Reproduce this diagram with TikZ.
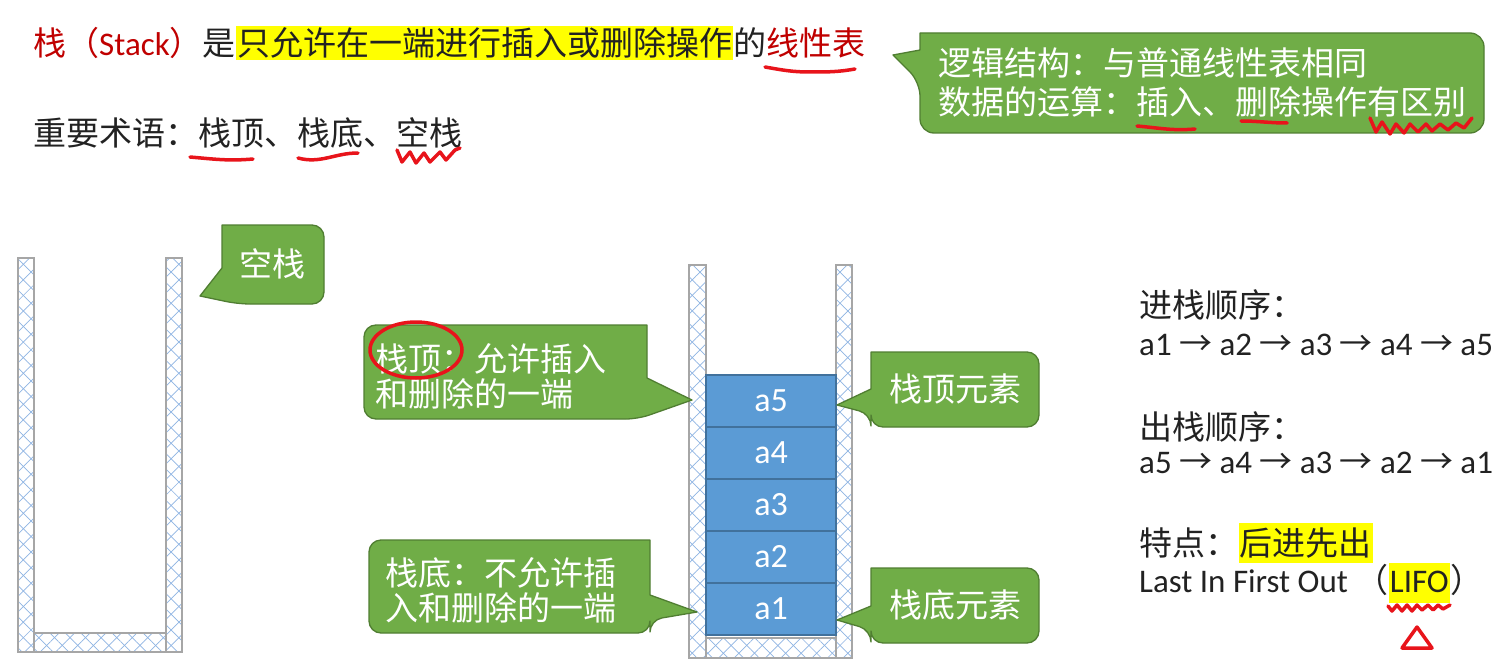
\documentclass[tikz,border=0pt]{standalone}
\usepackage{fontspec}
\setmainfont{Noto Sans CJK SC}
\newfontfamily\lat{Carlito}
\usetikzlibrary{patterns.meta}
\definecolor{cgreen}{HTML}{70AD47}
\definecolor{cgreenb}{HTML}{507E32}
\definecolor{sblue}{HTML}{5B9BD5}
\definecolor{sblueb}{HTML}{41719C}
\definecolor{hatch}{HTML}{8EB4E3}
\definecolor{wallb}{HTML}{A6A6A6}
\definecolor{dred}{HTML}{C00000}
\definecolor{pen}{HTML}{E8141B}
\definecolor{hl}{HTML}{FFFF00}
\definecolor{ink}{HTML}{222222}
\newcommand\wallbox[4]{%
  \fill[white] (#1,#2) rectangle (#3,#4);
  \fill[pattern={Lines[angle=45,distance=11bp,line width=0.7bp]},pattern color=hatch] (#1,#2) rectangle (#3,#4);
  \fill[pattern={Lines[angle=-45,distance=11bp,line width=0.7bp]},pattern color=hatch] (#1,#2) rectangle (#3,#4);
  \draw[wallb,line width=1.3bp] (#1,#2) rectangle (#3,#4);}
\tikzset{
  txt/.style={font=\fontsize{33bp}{40bp}\selectfont, text=ink, inner sep=0pt},
  hlbox/.style={fill=hl, inner xsep=1bp, inner ysep=0pt},
  callout/.style={fill=cgreen, draw=cgreenb, line width=1.3bp, line join=round},
  ctext/.style={text=white, inner sep=0pt, align=left},
  elem/.style={fill=sblue, draw=sblueb, line width=1.5bp, inner sep=0pt, minimum width=130bp, minimum height=52bp, text=white, font=\lat\fontsize{34bp}{40bp}\selectfont},
  redpen/.style={draw=pen, line width=3.5bp, line cap=round, line join=round}
}
\begin{document}
\begin{tikzpicture}[x=1bp,y=-1bp]
\useasboundingbox (0,0) rectangle (1504,661);
\fill[white] (0,0) rectangle (1504,661);

% ---------- empty stack ----------
\wallbox{18}{258}{34}{652}
\wallbox{166}{258}{182}{652}
\wallbox{34}{633}{166}{652}

% ---------- filled stack ----------
\wallbox{689}{265}{706}{658}
\wallbox{836}{265}{852}{658}
\wallbox{706}{638}{836}{658}
\node[elem] (a5) at (771,401) {a5};
\node[elem] (a4) at (771,453) {a4};
\node[elem] (a3) at (771,505) {a3};
\node[elem] (a2) at (771,557) {a2};
\node[elem] (a1) at (771,609) {a1};

% ---------- callout shapes ----------
\coordinate (tipLogic) at (893,55);
\coordinate (tipEmpty) at (200,296);
\coordinate (tipTop) at (692,400);
\coordinate (tipBot) at (697,612);
\coordinate (tipTopE) at (837,405);
\coordinate (tipBotE) at (837,620);
\path[callout] (tipLogic) -- (920,50) -- (920,33) [rounded corners=14bp] -- (1484,33) -- (1484,133) -- (920,133) -- (920,82) [sharp corners] -- cycle;
\path[callout] (tipEmpty) -- (222,268) -- (222,225) [rounded corners=12bp] -- (324,225) -- (324,304) -- (238,304) [sharp corners] -- cycle;
\path[callout] (tipTop) -- (647,378) -- (647,325) [rounded corners=12bp] -- (364,325) -- (364,419) -- (638,419) [sharp corners] -- cycle;
\path[callout] (tipBot) -- (650,595) -- (650,540) [rounded corners=12bp] -- (369,540) -- (369,633) -- (650,633) -- (650,620) [sharp corners] -- cycle;
\path[callout] (tipTopE) -- (871,389) -- (871,352) [rounded corners=12bp] -- (1039,352) -- (1039,427) -- (871,427) -- (871,414) [sharp corners] -- cycle;
\path[callout] (tipBotE) -- (871,606) -- (871,568) [rounded corners=12bp] -- (1039,568) -- (1039,643) -- (871,643) -- (871,630) [sharp corners] -- cycle;

% ---------- callout texts ----------
\node[ctext, anchor=west, font=\fontsize{33bp}{39bp}\selectfont] (logic) at (938,82.5) {逻辑结构：与普通线性表相同\\数据的运算：插入、删除操作有区别};
\node[ctext, font=\fontsize{33bp}{39bp}\selectfont] (empty) at (272,264) {空栈};
\node[ctext, anchor=west, font=\fontsize{33bp}{35bp}\selectfont] (topdesc) at (375,376) {栈顶：允许插入\\和删除的一端};
\node[ctext, anchor=west, font=\fontsize{33bp}{35bp}\selectfont] (botdesc) at (385,590) {栈底：不允许插\\入和删除的一端};
\node[ctext, font=\fontsize{33bp}{39bp}\selectfont] (topel) at (955,389) {栈顶元素};
\node[ctext, font=\fontsize{33bp}{39bp}\selectfont] (botel) at (955,605) {栈底元素};

% ---------- title lines ----------
\node[txt, anchor=base west] (t1) at (33,55.5) {\textcolor{dred}{栈（{\lat Stack}）}是};
\node[txt, hlbox, anchor=base west, text height=29.5bp, text depth=4.5bp] (t2) at (t1.base east) {只允许在一端进行插入或删除操作};
\node[txt, anchor=base west] (t3) at (t2.base east) {的\textcolor{dred}{线性表}};
\node[txt, anchor=base west] (terms) at (33,145.5) {重要术语：栈顶、栈底、空栈};

% ---------- right column ----------
\node[txt, anchor=base west] (pushh) at (1139,317.5) {进栈顺序：};
\node[txt, anchor=base west] (pushs) at (1139,355) {{\lat a1} → {\lat a2} → {\lat a3} → {\lat a4} → {\lat a5}};
\node[txt, anchor=base west] (poph) at (1139,439.5) {出栈顺序：};
\node[txt, anchor=base west] (pops) at (1139,473) {{\lat a5} → {\lat a4} → {\lat a3} → {\lat a2} → {\lat a1}};
\node[txt, anchor=base west] (feat1) at (1139,555.5) {特点：};
\node[txt, hlbox, anchor=base west, text height=32.5bp, text depth=7.5bp] (feat2) at (feat1.base east) {后进先出};
\node[txt, anchor=base west] (lf1) at (1139,592) {{\lat Last In First Out }（};
\node[txt, hlbox, anchor=base west, text height=29bp, text depth=11bp, font=\lat\fontsize{33bp}{40bp}\selectfont] (lf2) at (lf1.base east) {LIFO};
\node[txt, anchor=base west] (lf3) at (lf2.base east) {）};

% ---------- red pen marks ----------
\draw[redpen] (765,67) to[out=-10,in=180] (810,72) to[out=0,in=190] (855,69);
\draw[redpen] (190,157) to[out=-5,in=185] (253,159);
\draw[redpen] (298,158) to[out=-15,in=180] (358,153);
\draw[redpen] (397,150) -- (402,162) -- (410,152) -- (416,163) -- (424,153) -- (430,162) -- (440,152) -- (446,160) -- (455,150) -- (460,148);
\draw[redpen] (1137,126) to[out=-5,in=185] (1195,129);
\draw[redpen] (1241,121) to[out=0,in=180] (1287,123);
\draw[redpen] (1370,118) -- (1376,132) -- (1382,122) -- (1390,134) -- (1396,124) -- (1404,133) -- (1410,124) -- (1418,132) -- (1426,124) -- (1432,131) -- (1440,124) -- (1448,130) -- (1456,123) -- (1464,128) -- (1472,118);
\draw[redpen] (416,350) ellipse [x radius=46, y radius=28];
\draw[redpen] (1388,606) -- (1392,611) -- (1397,605) -- (1402,611) -- (1407,605) -- (1412,611) -- (1417,605) -- (1422,610) -- (1428,605) -- (1433,610) -- (1438,605) -- (1443,609) -- (1450,605);
\draw[redpen] (1417,627) -- (1432,648) -- (1402,648) -- cycle;
\end{tikzpicture}
\end{document}
